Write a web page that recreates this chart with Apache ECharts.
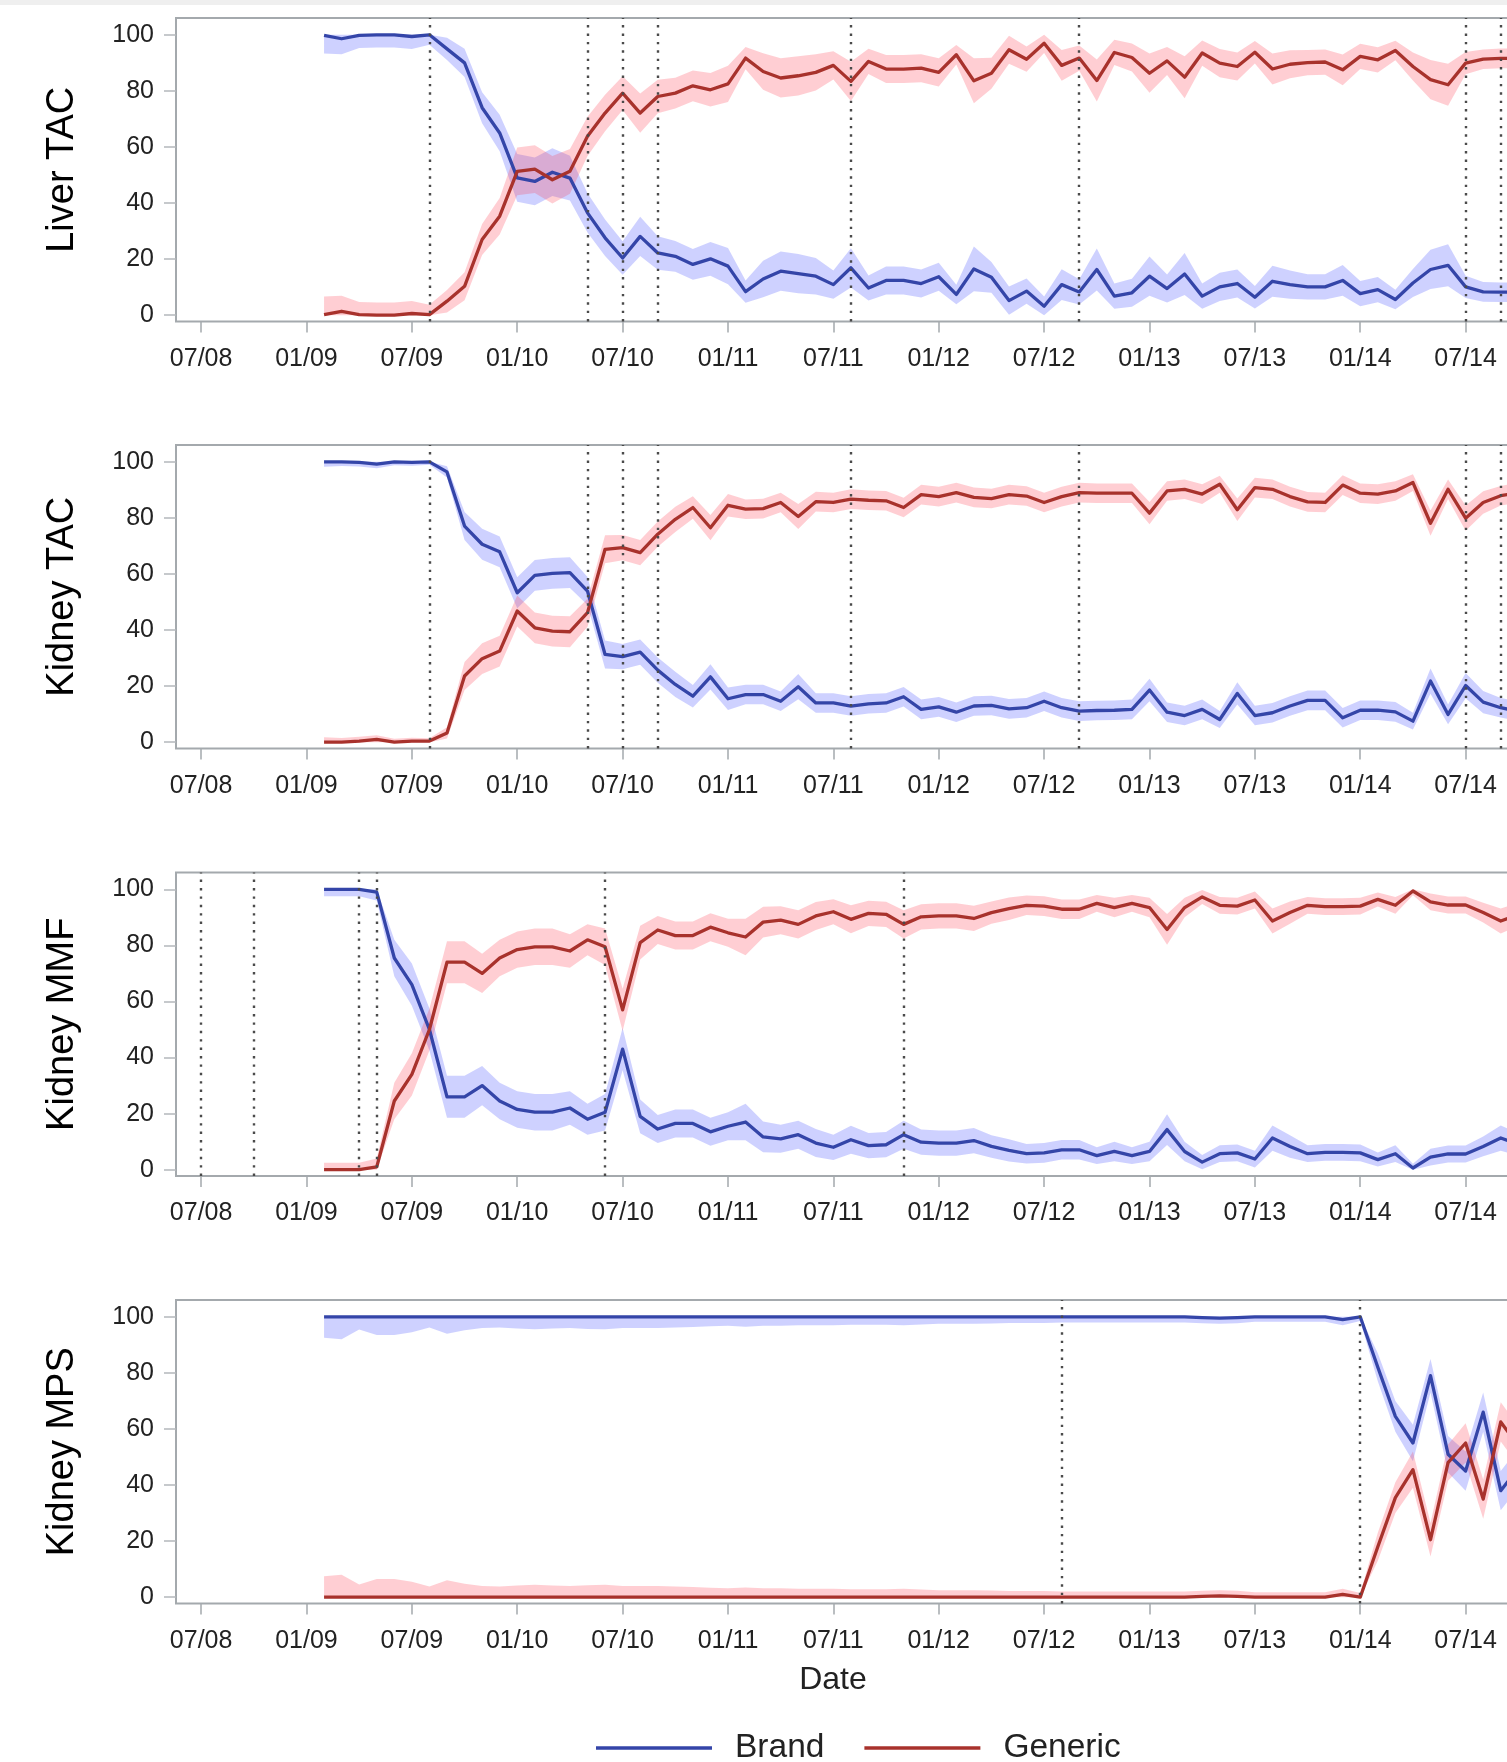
<!DOCTYPE html>
<html><head><meta charset="utf-8">
<script src="https://cdn.jsdelivr.net/npm/echarts@6/dist/echarts.min.js"></script>
<style>html,body{margin:0;padding:0;background:#fff}#c{width:1507px;height:1762px}</style>
</head><body><div id="c"></div>
<script>
// ---------------- DATA ----------------
const dates = [
 '2009-02','2009-03','2009-04','2009-05','2009-06','2009-07','2009-08','2009-09','2009-10','2009-11','2009-12',
 '2010-01','2010-02','2010-03','2010-04','2010-05','2010-06','2010-07','2010-08','2010-09','2010-10','2010-11','2010-12',
 '2011-01','2011-02','2011-03','2011-04','2011-05','2011-06','2011-07','2011-08','2011-09','2011-10','2011-11','2011-12',
 '2012-01','2012-02','2012-03','2012-04','2012-05','2012-06','2012-07','2012-08','2012-09','2012-10','2012-11','2012-12',
 '2013-01','2013-02','2013-03','2013-04','2013-05','2013-06','2013-07','2013-08','2013-09','2013-10','2013-11','2013-12',
 '2014-01','2014-02','2014-03','2014-04','2014-05','2014-06','2014-07','2014-08','2014-09','2014-10'
];
const tickLabels = ['07/08','01/09','07/09','01/10','07/10','01/11','07/11','01/12','07/12','01/13','07/13','01/14','07/14'];
const yTicks = [0, 20, 40, 60, 80, 100];

// Liver TAC
const liverBrand = [
 99.8,98.6,99.8,100,100,99.4,100,95,90,74,65,
 49,47.7,51,48.9,36.5,27.6,20.4,28.1,22.2,21,18.1,20.1,
 17.5,8.4,12.9,15.7,14.8,13.9,10.9,16.9,9.7,12.4,12.4,11.3,
 13.7,7.4,16.5,13.5,5.2,8.6,3.2,10.9,8.3,16.3,6.8,8.0,
 13.9,9.5,14.7,6.8,10.1,11.3,6.4,12.1,10.9,10.1,10.1,12.4,
 7.7,9.1,5.6,11.5,16.3,17.8,10.1,8.3,8.2,8.2];
const liverGeneric = [
 0.2,1.4,0.2,0,0,0.6,0.2,5,10.3,27,35.3,
 51.3,52.1,48.3,51.3,63.8,72.1,79.2,72.1,78,79.2,81.8,80.4,
 82.5,91.7,86.9,84.6,85.4,86.6,89.1,83.4,90.5,87.8,87.8,88.1,
 86.6,92.9,83.6,86.3,94.7,91.3,97.0,89.1,91.7,83.7,93.7,91.9,
 86.3,90.7,84.9,93.5,89.9,88.7,93.8,87.8,89.5,90.1,90.3,87.5,
 92.3,91.1,94.4,88.7,84,82.2,89.9,91.3,91.6,91.6];
const liverCI = [
 6.5,5.5,4.5,4.5,4.5,4.5,3.5,4,5,5.5,6.5,
 8.5,8.5,8.5,8,7,6.5,6,7,6,5.5,5.5,6,
 6.5,4,6.5,7,7,6.5,5,7,4.5,5,5,5,
 5,3.5,8,5.5,5,4.5,3.5,5.5,4.5,7.5,4.5,5,
 7,5,7.5,4.5,5,5,4,5.5,5,4.5,4.5,5.5,
 4.5,4.5,3.5,5,7,7.5,4,3.5,3.5,3.5];
const liverRefs = ['2009-08','2010-05','2010-07','2010-09','2011-08','2012-09','2014-07','2014-09'];

// Kidney TAC
const ktacBrand = [
 100,100,99.8,99.2,100,99.8,100,96.4,77.1,70.6,67.9,
 53.3,59.5,60.2,60.5,53.9,31.3,30.5,32.1,25.7,20.6,16.4,23.3,
 15.5,17,17,14.6,19.8,14,14,12.9,13.7,14,16.2,11.7,
 12.6,10.7,12.9,13.1,11.9,12.3,14.6,12.3,11.1,11.3,11.4,11.7,
 18.6,10.7,9.5,11.7,8.1,17.4,9.5,10.5,12.9,14.9,14.9,8.7,
 11.4,11.4,10.8,7.5,21.8,9.9,20.2,14.3,12.3,11];
const ktacGeneric = [
 0,0,0.4,1,0,0.4,0.4,3.3,23.6,29.8,32.5,
 46.8,40.8,39.6,39.4,46.2,68.8,69.4,67.6,74.2,79.5,83.7,76.5,
 84.5,83.1,83.3,85.5,80.5,85.8,85.5,86.7,86.3,86.1,83.7,88.3,
 87.6,89,87.3,86.9,88.3,87.8,85.5,87.6,89,88.8,88.8,88.8,
 81.7,89.6,90.2,88.5,92,82.9,90.8,90.2,87.6,85.7,85.5,91.7,
 88.8,88.5,89.6,92.6,78.1,90.2,79.9,85.5,87.9,89];
const ktacCI = [
 1.8,1.5,1.5,1.5,1.2,1.2,1,2,5,5.5,5.5,
 5.5,5.5,5.5,5.5,5,5,4.5,4.5,4.5,4.5,4,4.5,
 4,3.5,3.5,3.5,4.5,3.5,3.5,3.5,3.5,3.5,3.5,3.5,
 3.5,3.5,3.5,3.5,3.5,3.5,3.5,3.5,3.5,3.5,3.5,3.5,
 4,3.5,3.5,3.5,3,4,3.5,3.5,3.5,3.5,3.5,3.5,
 3.5,3.5,3.5,3,4.5,3.5,4.5,4,3.5,3.5];
const ktacRefs = ['2009-08','2010-05','2010-07','2010-09','2011-08','2012-09','2014-07','2014-09'];

// Kidney MMF
const mmfBrand = [
 100,100,100,99,75.5,66,50,26,26,30,24.5,
 21.5,20.5,20.5,22,18,20.5,43,19,14.5,16.5,16.5,13.5,
 15.5,17,11.7,11,12.5,9.5,8,10.7,8.6,8.9,12.5,9.8,
 9.5,9.5,10.4,8.3,6.9,5.7,6,7.1,7.1,5,6.5,5,
 6.5,14.3,6.5,2.7,5.7,6,3.8,11.3,8.3,5.7,6.2,6.2,
 6,3.6,5.7,0.6,4.5,5.6,5.6,8.3,11.3,9];
const mmfGeneric = [
 0,0,0,1,24.5,34,50,74,74,70,75.5,
 78.5,79.5,79.5,78,82,79.5,57,81,85.5,83.5,83.5,86.5,
 84.5,83,88.3,89,87.5,90.5,92,89.3,91.4,91.1,87.5,90.2,
 90.5,90.5,89.6,91.7,93.1,94.3,94,92.9,92.9,95,93.5,95,
 93.5,85.7,93.5,97.3,94.3,94,96.2,88.7,91.7,94.3,93.8,93.8,
 94,96.4,94.3,99.4,95.5,94.4,94.4,91.7,88.7,91];
const mmfCI = [
 2.5,2.5,2.5,3,6.5,7.5,7.5,7.5,7.5,7,6.5,
 6.5,6.5,6.5,6,5.5,6.5,7.5,6,5,5,5,5,
 5,6.5,5.5,5,5,5,4.5,5,4.5,4.5,5,4.5,
 4.5,4.5,4.5,4,4,3.5,3.5,3.5,3.5,3,3.5,3,
 3.5,5.5,3.5,2.5,3,3,3,4.5,4,3,3,3,
 3,2.5,3,1.5,3,3,3,3.5,4.5,4];
const mmfRefs = ['2008-07','2008-10','2009-04','2009-05','2010-06','2011-11'];

// Kidney MPS
const mpsBrand = [
 100,100,100,100,100,100,100,100,100,100,100,
 100,100,100,100,100,100,100,100,100,100,100,100,
 100,100,100,100,100,100,100,100,100,100,100,100,
 100,100,100,100,100,100,100,100,100,100,100,100,
 100,100,100,99.7,99.5,99.7,100,100,100,100,100,99,
 100,82,64.5,55,79,51,45,66,38,46];
const mpsGeneric = [
 0,0,0,0,0,0,0,0,0,0,0,
 0,0,0,0,0,0,0,0,0,0,0,0,
 0,0,0,0,0,0,0,0,0,0,0,0,
 0,0,0,0,0,0,0,0,0,0,0,0,
 0,0,0,0.3,0.5,0.3,0,0,0,0,0,1,
 0,18,35.5,45.5,20.5,48,55,35,62.5,54];
const mpsCI = [
 7.5,8,4.5,6.5,6.5,5.5,3.8,6,4.8,4,3.8,
 4.2,4.4,4.2,4,4.3,4.4,4,4,4,3.8,3.6,3.4,
 3.2,3.5,3.2,3.2,3,3,3,2.8,2.8,2.8,3,2.7,
 2.5,2.5,2.5,2.4,2.2,2.2,2.2,2,2,2,2,2,
 2,2,2,2,2,2,1.8,1.8,1.8,1.8,1.8,2,
 1.5,5,5.5,6.5,6,6.5,7,7,7,7];
const mpsRefs = ['2012-08','2014-01'];

// ---------------- CHART ----------------
const FONT = '"Liberation Sans", Arial, Helvetica, sans-serif';
const BLUE = '#3445a8', RED = '#a8322c';
const BLUE_BAND = 'rgba(60,72,255,0.25)', RED_BAND = 'rgba(255,50,70,0.24)';
const FRAME = '#a4a9ad';

function monthIndex(s){ const p = s.split('-').map(Number); return (p[0]-2008)*12 + (p[1]-7); }
function tickIndex(s){ const p = s.split('/').map(Number); return (2000+p[1]-2008)*12 + (p[0]-7); }
const xs = dates.map(monthIndex);
const tickPos = tickLabels.map(tickIndex);

const panels = [
 {title:'Liver TAC', brand:liverBrand, generic:liverGeneric, ci:liverCI, refs:liverRefs},
 {title:'Kidney TAC', brand:ktacBrand, generic:ktacGeneric, ci:ktacCI, refs:ktacRefs},
 {title:'Kidney MMF', brand:mmfBrand, generic:mmfGeneric, ci:mmfCI, refs:mmfRefs},
 {title:'Kidney MPS', brand:mpsBrand, generic:mpsGeneric, ci:mpsCI, refs:mpsRefs}
];
const gridTops = [18, 445, 872.5, 1300];

function bandRender(vals, ci, fill){
  return function(params, api){
    const up = [], lo = [];
    for (let k = 0; k < xs.length; k++){
      up.push(api.coord([xs[k], Math.min(100, vals[k] + ci[k])]));
      lo.push(api.coord([xs[k], Math.max(0, vals[k] - ci[k])]));
    }
    return {type:'polygon', shape:{points: up.concat(lo.reverse())}, style:{fill: fill}, silent:true};
  };
}

const grids = [], xAxes = [], yAxes = [], series = [];
panels.forEach((p, i) => {
  grids.push({left:176, width:1395, top:gridTops[i], height:303.5, show:true, borderColor:FRAME, borderWidth:2,
              backgroundColor:'transparent', containLabel:false, outerBoundsMode:'none'});
  xAxes.push({type:'value', gridIndex:i, min:-1.43, max:78,
    axisLine:{show:false, onZero:false}, splitLine:{show:false},
    axisTick:{show:true, customValues:tickPos, length:11, lineStyle:{color:FRAME, width:1.5}},
    axisLabel:{customValues:tickPos, margin:25, fontSize:25, fontFamily:FONT, color:'#222',
      formatter: v => { const k = tickPos.indexOf(Math.round(v)); return k >= 0 ? tickLabels[k] : ''; }}
  });
  yAxes.push({type:'value', gridIndex:i, min:-2.25, max:106,
    axisLine:{show:false, onZero:false}, splitLine:{show:false},
    axisTick:{show:true, customValues:yTicks, length:12, lineStyle:{color:'#b4b8bc', width:1.5}},
    axisLabel:{customValues:yTicks, margin:22, fontSize:25, fontFamily:FONT, color:'#222'},
    name:p.title, nameLocation:'middle', nameGap:94, nameRotate:90,
    nameTextStyle:{fontSize:38, fontFamily:FONT, color:'#000'}
  });
  series.push({type:'custom', xAxisIndex:i, yAxisIndex:i, data:[[xs[0], 0]], silent:true, z:1,
    renderItem: bandRender(p.brand, p.ci, BLUE_BAND), animation:false});
  series.push({type:'custom', xAxisIndex:i, yAxisIndex:i, data:[[xs[0], 0]], silent:true, z:1,
    renderItem: bandRender(p.generic, p.ci, RED_BAND), animation:false});
  series.push({type:'line', name:'Brand', xAxisIndex:i, yAxisIndex:i, z:3, silent:true,
    data: xs.map((x, k) => [x, p.brand[k]]), symbol:'none', showSymbol:false,
    lineStyle:{color:BLUE, width:3.3, join:'round'}, itemStyle:{color:BLUE}, animation:false,
    markLine:{silent:true, symbol:['none','none'], label:{show:false}, animation:false,
      lineStyle:{color:'#4a4a4a', width:2.4, type:[2.4, 6]},
      emphasis:{disabled:true},
      data: p.refs.map(r => ({xAxis: monthIndex(r)}))}
  });
  series.push({type:'line', name:'Generic', xAxisIndex:i, yAxisIndex:i, z:3, silent:true,
    data: xs.map((x, k) => [x, p.generic[k]]), symbol:'none', showSymbol:false,
    lineStyle:{color:RED, width:3.3, join:'round'}, itemStyle:{color:RED}, animation:false});
});

const chart = echarts.init(document.getElementById('c'), null, {renderer:'canvas'});
chart.setOption({
  animation:false,
  backgroundColor:'#fff',
  grid:grids, xAxis:xAxes, yAxis:yAxes, series:series,
  legend:{left:591, top:1726, itemWidth:116, itemHeight:3.5, itemGap:40, selectedMode:false,
    data:[{name:'Brand', icon:'rect'}, {name:'Generic', icon:'rect'}],
    textStyle:{fontSize:33.5, fontFamily:FONT, color:'#222', padding:[0,0,0,18]}},
  graphic:[
    {type:'rect', shape:{x:0, y:0, width:1507, height:5}, style:{fill:'#efefef'}, silent:true, z:-10},
    {type:'text', x:833, y:1680, silent:true,
     style:{text:'Date', fontSize:32, fontFamily:FONT, fill:'#222', align:'center', verticalAlign:'middle',
            textAlign:'center', textVerticalAlign:'middle'}}
  ]
});
</script></body></html>
